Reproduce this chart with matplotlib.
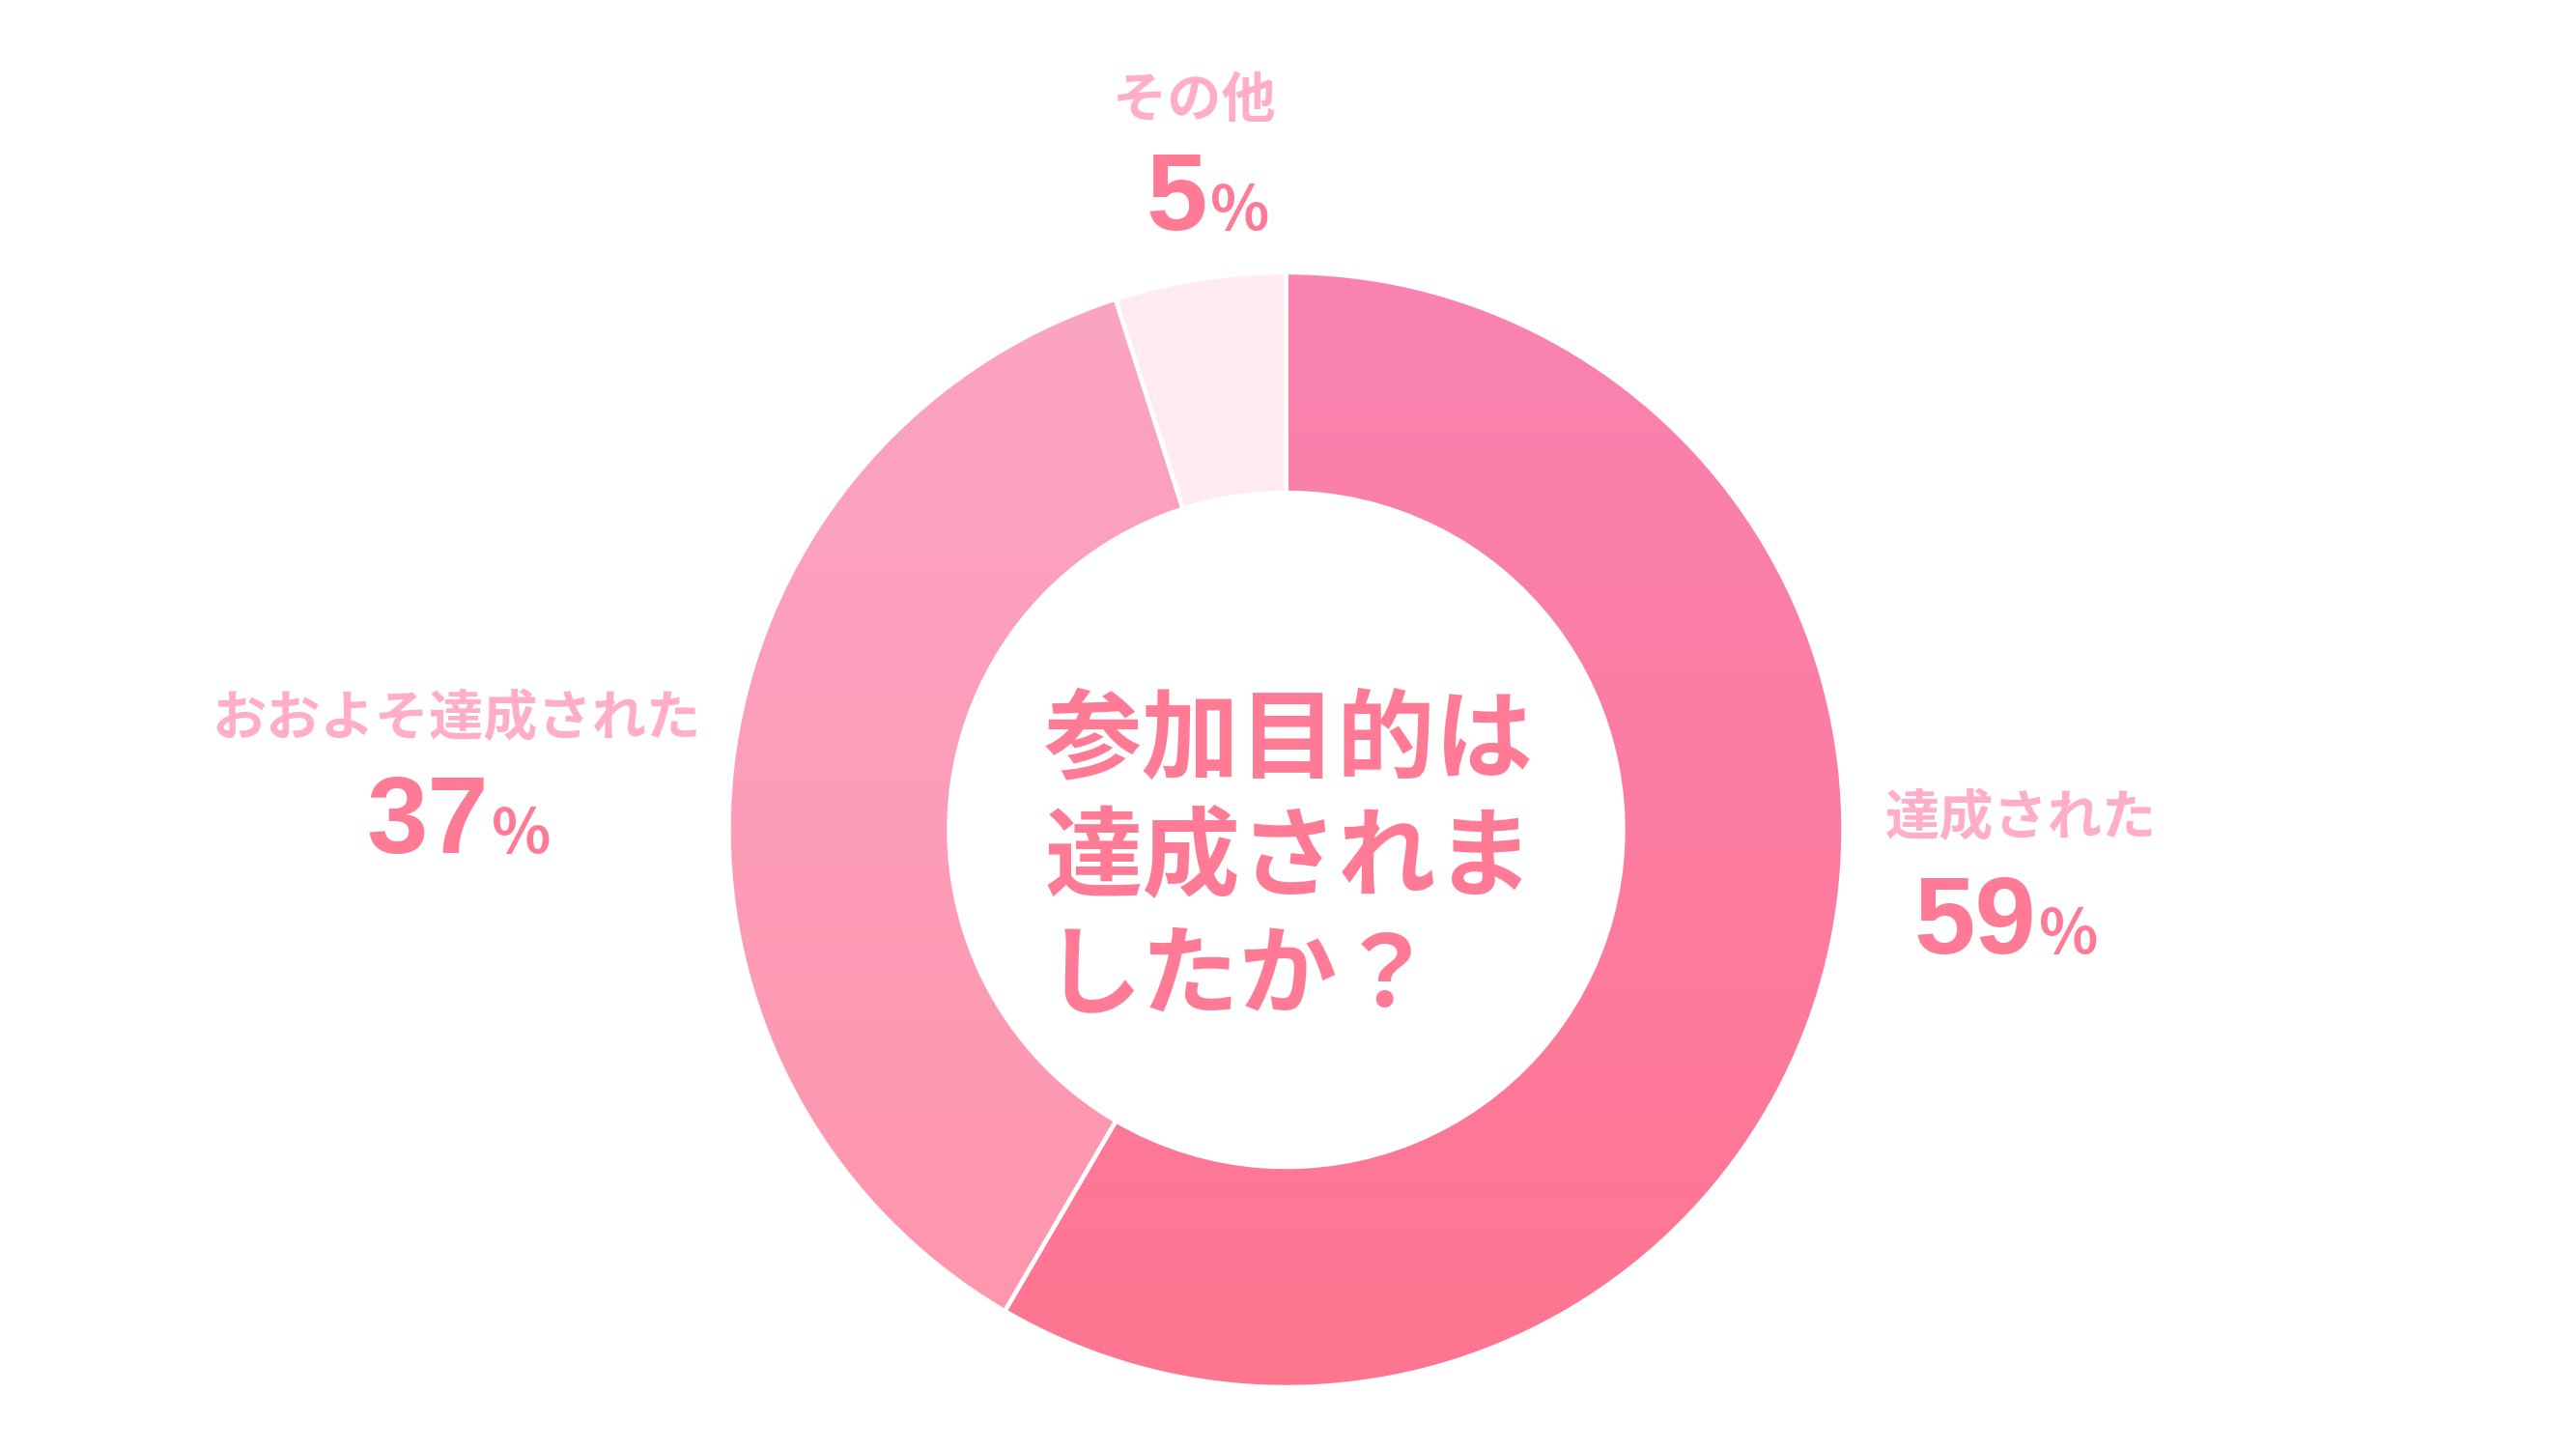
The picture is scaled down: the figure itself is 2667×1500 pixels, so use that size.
import numpy as np
import matplotlib
matplotlib.use("Agg")
import matplotlib.pyplot as plt
from matplotlib.colors import LinearSegmentedColormap

plt.rcParams['font.family'] = ['Noto Sans CJK JP', 'DejaVu Sans']

# ---- data ----
categories = ["達成された", "おおよそ達成された", "その他"]
values = [59, 37, 5]
pct_labels = ["59", "37", "5"]
title = "参加目的は\n達成されま\nしたか？"

# ---- styles ----
grad_top = ["#F983B1", "#FBA4C4", "#FFEBF0"]
grad_bot = ["#FF7590", "#FF95AC", "#FFEBF0"]
label_color = "#FFADC8"
num_color = "#FF7A95"

W, H = 2667, 1500
fig = plt.figure(figsize=(W / 100, H / 100), dpi=100)
ax = fig.add_axes([0, 0, 1, 1])
ax.set_xlim(0, W)
ax.set_ylim(0, H)
ax.axis('off')

cx, cy = 1331.5, H - 859
R, ring = 577, 228

wedges, _ = ax.pie(values, radius=R, center=(cx, cy), startangle=90,
                   counterclock=False, colors=grad_bot,
                   wedgeprops=dict(width=ring, linewidth=0))

# vertical gradient fill per wedge
grad = np.linspace(0, 1, 256).reshape(-1, 1)
for w, ct, cb in zip(wedges, grad_top, grad_bot):
    cmap = LinearSegmentedColormap.from_list("g", [cb, ct])
    im = ax.imshow(grad, cmap=cmap, extent=(cx - R, cx + R, cy - R, cy + R),
                   origin='lower', aspect='auto', zorder=2)
    im.set_clip_path(w)

# white separators
ax.pie(values, radius=R, center=(cx, cy), startangle=90, counterclock=False,
       wedgeprops=dict(width=ring, linewidth=3.2, edgecolor='white',
                       fill=False, zorder=3))
ax.set_xlim(0, W)
ax.set_ylim(0, H)
ax.set_aspect('auto')

# centre title
ax.text(1081, H - 890, title, ha='left', va='center', fontsize=73,
        fontweight='bold', color=num_color, linespacing=1.24, zorder=5)

# labels: (label centre x, label centre y, number junction x, number baseline y)
label_pos = [(2092, 847, 2108, 987), (473, 744, 506, 883), (1236, 104, 1250, 238)]
for cat, p, (lx, ly, nx, ny) in zip(categories, pct_labels, label_pos):
    ax.text(lx, H - ly, cat, ha='center', va='center', fontsize=40.5,
            fontweight='bold', color=label_color, zorder=5)
    ax.text(nx, H - ny, p, ha='right', va='baseline', fontsize=82,
            fontweight='bold', color=num_color,
            family=['Liberation Sans', 'DejaVu Sans'], zorder=5)
    ax.text(nx + 3, H - ny, "%", ha='left', va='baseline', fontsize=46,
            fontweight='bold', color=num_color, zorder=5)

fig.savefig("out.png", dpi=100, facecolor='white')
